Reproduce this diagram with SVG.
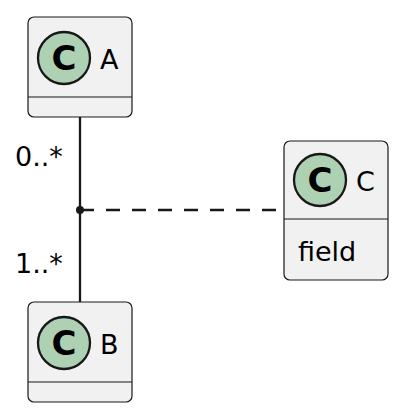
<svg xmlns="http://www.w3.org/2000/svg" width="403" height="417" viewBox="0 0 403 417">
<style>
.box{fill:#F1F1F1;stroke:#181818;stroke-width:1.2}
.sep{stroke:#181818;stroke-width:1.2}
.circ{fill:#ADD1B2;stroke:#181818;stroke-width:2.3}
.t{font-family:"DejaVu Sans",sans-serif;font-size:27px;fill:#000}
.c{font-family:"DejaVu Sans",sans-serif;font-size:34px;font-weight:bold;fill:#000}
.ln{stroke:#181818;stroke-width:2.3;fill:none}
</style>
<g id="A">
<rect class="box" x="28" y="17" width="104" height="100" rx="6"/>
<line class="sep" x1="28" y1="97" x2="132" y2="97"/>
<circle class="circ" cx="64" cy="58" r="26"/>
<text class="c" x="64" y="70" text-anchor="middle">C</text>
<text class="t" x="100" y="69">A</text>
</g>
<g id="B">
<rect class="box" x="28" y="302" width="104" height="100" rx="6"/>
<line class="sep" x1="28" y1="382" x2="132" y2="382"/>
<circle class="circ" cx="64" cy="343" r="26"/>
<text class="c" x="64" y="355" text-anchor="middle">C</text>
<text class="t" x="100" y="354">B</text>
</g>
<g id="C">
<rect class="box" x="284" y="141" width="104" height="139" rx="6"/>
<line class="sep" x1="284" y1="219" x2="388" y2="219"/>
<circle class="circ" cx="320" cy="180" r="26"/>
<text class="c" x="320" y="192" text-anchor="middle">C</text>
<text class="t" x="356" y="191">C</text>
<text class="t" x="298" y="261">field</text>
</g>
<g id="connectors">
<line class="ln" x1="80" y1="117" x2="80" y2="302"/>
<line class="ln" x1="80" y1="210" x2="284" y2="210" stroke-dasharray="14,12"/>
<circle cx="80" cy="210" r="4" fill="#181818"/>
<text class="t" x="15" y="166">0..*</text>
<text class="t" x="15" y="273">1..*</text>
</g>
</svg>
